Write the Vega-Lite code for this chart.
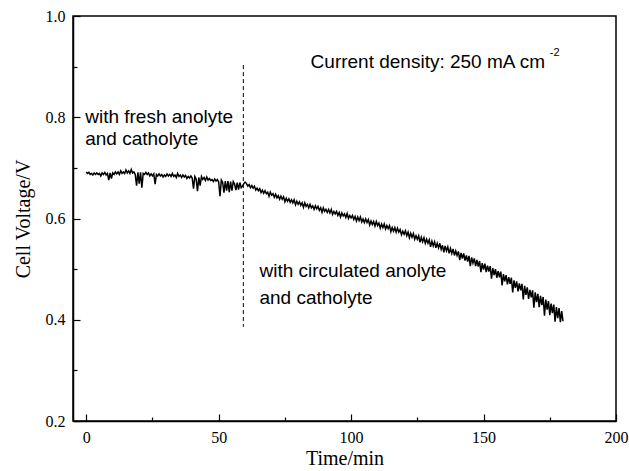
{
  "$schema": "https://vega.github.io/schema/vega-lite/v6.json",
  "autosize": "none",
  "padding": {"left": 73, "top": 16, "right": 13, "bottom": 50},
  "width": 543,
  "height": 405,
  "background": "white",
  "config": {
    "view": {"stroke": "black", "strokeWidth": 1.5},
    "axis": {
      "domainColor": "black", "domainWidth": 1.5,
      "tickColor": "black", "tickWidth": 1.2,
      "labelColor": "black", "titleColor": "black",
      "labelFont": "Liberation Serif", "labelFontSize": 16,
      "titleFont": "Liberation Serif", "titleFontSize": 20, "titleFontWeight": "normal",
      "grid": false
    }
  },
  "datasets": {
    "series": [
{"t":0,"v":0.692},{"t":0.5,"v":0.689},{"t":1,"v":0.691},{"t":1.5,"v":0.687},{"t":2,"v":0.689},{"t":2.5,"v":0.686},{"t":3,"v":0.690},{"t":3.5,"v":0.687},{"t":4,"v":0.690},{"t":4.5,"v":0.687},
{"t":5,"v":0.689},{"t":5.5,"v":0.684},{"t":6,"v":0.690},{"t":6.5,"v":0.687},{"t":7,"v":0.691},{"t":7.5,"v":0.686},{"t":8,"v":0.689},{"t":8.5,"v":0.676},{"t":9,"v":0.690},{"t":9.5,"v":0.679},
{"t":10,"v":0.690},{"t":10.5,"v":0.687},{"t":11,"v":0.692},{"t":11.5,"v":0.688},{"t":12,"v":0.692},{"t":12.5,"v":0.687},{"t":13,"v":0.694},{"t":13.5,"v":0.689},{"t":14,"v":0.692},{"t":14.5,"v":0.689},
{"t":15,"v":0.696},{"t":15.5,"v":0.690},{"t":16,"v":0.694},{"t":16.5,"v":0.689},{"t":17,"v":0.697},{"t":17.5,"v":0.690},{"t":18,"v":0.692},{"t":18.5,"v":0.687},{"t":19,"v":0.665},{"t":19.5,"v":0.691},
{"t":20,"v":0.669},{"t":20.5,"v":0.691},{"t":21,"v":0.661},{"t":21.5,"v":0.689},{"t":22,"v":0.687},{"t":22.5,"v":0.691},{"t":23,"v":0.687},{"t":23.5,"v":0.690},{"t":24,"v":0.684},{"t":24.5,"v":0.688},
{"t":25,"v":0.684},{"t":25.5,"v":0.688},{"t":26,"v":0.668},{"t":26.5,"v":0.687},{"t":27,"v":0.684},{"t":27.5,"v":0.688},{"t":28,"v":0.684},{"t":28.5,"v":0.687},{"t":29,"v":0.682},{"t":29.5,"v":0.686},
{"t":30,"v":0.683},{"t":30.5,"v":0.688},{"t":31,"v":0.684},{"t":31.5,"v":0.687},{"t":32,"v":0.683},{"t":32.5,"v":0.689},{"t":33,"v":0.683},{"t":33.5,"v":0.686},{"t":34,"v":0.681},{"t":34.5,"v":0.689},
{"t":35,"v":0.683},{"t":35.5,"v":0.686},{"t":36,"v":0.681},{"t":36.5,"v":0.686},{"t":37,"v":0.682},{"t":37.5,"v":0.685},{"t":38,"v":0.679},{"t":38.5,"v":0.683},{"t":39,"v":0.680},{"t":39.5,"v":0.684},
{"t":40,"v":0.680},{"t":40.5,"v":0.659},{"t":41,"v":0.683},{"t":41.5,"v":0.678},{"t":42,"v":0.654},{"t":42.5,"v":0.681},{"t":43,"v":0.665},{"t":43.5,"v":0.683},{"t":44,"v":0.677},{"t":44.5,"v":0.681},
{"t":45,"v":0.675},{"t":45.5,"v":0.682},{"t":46,"v":0.676},{"t":46.5,"v":0.679},{"t":47,"v":0.675},{"t":47.5,"v":0.677},{"t":48,"v":0.673},{"t":48.5,"v":0.678},{"t":49,"v":0.674},{"t":49.5,"v":0.677},
{"t":50,"v":0.672},{"t":50.5,"v":0.644},{"t":51,"v":0.676},{"t":51.5,"v":0.671},{"t":52,"v":0.651},{"t":52.5,"v":0.674},{"t":53,"v":0.655},{"t":53.5,"v":0.674},{"t":54,"v":0.652},{"t":54.5,"v":0.673},
{"t":55,"v":0.655},{"t":55.5,"v":0.673},{"t":56,"v":0.668},{"t":56.5,"v":0.656},{"t":57,"v":0.671},{"t":57.5,"v":0.657},{"t":58,"v":0.671},{"t":58.5,"v":0.661},{"t":59,"v":0.664},{"t":59.5,"v":0.669},
{"t":60,"v":0.672},{"t":60.5,"v":0.669},{"t":61,"v":0.664},{"t":61.5,"v":0.667},{"t":62,"v":0.661},{"t":62.5,"v":0.665},{"t":63,"v":0.660},{"t":63.5,"v":0.664},{"t":64,"v":0.656},{"t":64.5,"v":0.660},
{"t":65,"v":0.655},{"t":65.5,"v":0.659},{"t":66,"v":0.651},{"t":66.5,"v":0.656},{"t":67,"v":0.650},{"t":67.5,"v":0.655},{"t":68,"v":0.649},{"t":68.5,"v":0.652},{"t":69,"v":0.644},{"t":69.5,"v":0.652},
{"t":70,"v":0.646},{"t":70.5,"v":0.649},{"t":71,"v":0.642},{"t":71.5,"v":0.648},{"t":72,"v":0.641},{"t":72.5,"v":0.645},{"t":73,"v":0.638},{"t":73.5,"v":0.644},{"t":74,"v":0.638},{"t":74.5,"v":0.643},
{"t":75,"v":0.633},{"t":75.5,"v":0.640},{"t":76,"v":0.634},{"t":76.5,"v":0.639},{"t":77,"v":0.632},{"t":77.5,"v":0.637},{"t":78,"v":0.631},{"t":78.5,"v":0.637},{"t":79,"v":0.627},{"t":79.5,"v":0.634},
{"t":80,"v":0.628},{"t":80.5,"v":0.633},{"t":81,"v":0.626},{"t":81.5,"v":0.631},{"t":82,"v":0.622},{"t":82.5,"v":0.631},{"t":83,"v":0.624},{"t":83.5,"v":0.628},{"t":84,"v":0.621},{"t":84.5,"v":0.628},
{"t":85,"v":0.621},{"t":85.5,"v":0.625},{"t":86,"v":0.618},{"t":86.5,"v":0.625},{"t":87,"v":0.619},{"t":87.5,"v":0.624},{"t":88,"v":0.616},{"t":88.5,"v":0.621},{"t":89,"v":0.612},{"t":89.5,"v":0.621},
{"t":90,"v":0.614},{"t":90.5,"v":0.618},{"t":91,"v":0.612},{"t":91.5,"v":0.618},{"t":92,"v":0.611},{"t":92.5,"v":0.618},{"t":93,"v":0.608},{"t":93.5,"v":0.614},{"t":94,"v":0.609},{"t":94.5,"v":0.614},
{"t":95,"v":0.606},{"t":95.5,"v":0.612},{"t":96,"v":0.603},{"t":96.5,"v":0.611},{"t":97,"v":0.605},{"t":97.5,"v":0.609},{"t":98,"v":0.602},{"t":98.5,"v":0.610},{"t":99,"v":0.600},{"t":99.5,"v":0.606},
{"t":100,"v":0.601},{"t":100.5,"v":0.606},{"t":101,"v":0.598},{"t":101.5,"v":0.604},{"t":102,"v":0.595},{"t":102.5,"v":0.603},{"t":103,"v":0.596},{"t":103.5,"v":0.603},{"t":104,"v":0.593},{"t":104.5,"v":0.599},
{"t":105,"v":0.592},{"t":105.5,"v":0.599},{"t":106,"v":0.592},{"t":106.5,"v":0.598},{"t":107,"v":0.587},{"t":107.5,"v":0.595},{"t":108,"v":0.588},{"t":108.5,"v":0.594},{"t":109,"v":0.585},{"t":109.5,"v":0.594},
{"t":110,"v":0.586},{"t":110.5,"v":0.591},{"t":111,"v":0.581},{"t":111.5,"v":0.589},{"t":112,"v":0.582},{"t":112.5,"v":0.589},{"t":113,"v":0.579},{"t":113.5,"v":0.586},{"t":114,"v":0.580},{"t":114.5,"v":0.586},
{"t":115,"v":0.574},{"t":115.5,"v":0.582},{"t":116,"v":0.575},{"t":116.5,"v":0.582},{"t":117,"v":0.573},{"t":117.5,"v":0.581},{"t":118,"v":0.573},{"t":118.5,"v":0.578},{"t":119,"v":0.568},{"t":119.5,"v":0.575},
{"t":120,"v":0.569},{"t":120.5,"v":0.576},{"t":121,"v":0.566},{"t":121.5,"v":0.573},{"t":122,"v":0.562},{"t":122.5,"v":0.571},{"t":123,"v":0.563},{"t":123.5,"v":0.570},{"t":124,"v":0.559},{"t":124.5,"v":0.566},
{"t":125,"v":0.559},{"t":125.5,"v":0.566},{"t":126,"v":0.553},{"t":126.5,"v":0.563},{"t":127,"v":0.554},{"t":127.5,"v":0.562},{"t":128,"v":0.551},{"t":128.5,"v":0.559},{"t":129,"v":0.551},{"t":129.5,"v":0.558},
{"t":130,"v":0.544},{"t":130.5,"v":0.555},{"t":131,"v":0.546},{"t":131.5,"v":0.554},{"t":132,"v":0.542},{"t":132.5,"v":0.551},{"t":133,"v":0.542},{"t":133.5,"v":0.551},{"t":134,"v":0.539},{"t":134.5,"v":0.547},
{"t":135,"v":0.533},{"t":135.5,"v":0.546},{"t":136,"v":0.536},{"t":136.5,"v":0.544},{"t":137,"v":0.531},{"t":137.5,"v":0.541},{"t":138,"v":0.531},{"t":138.5,"v":0.540},{"t":139,"v":0.527},{"t":139.5,"v":0.536},
{"t":140,"v":0.527},{"t":140.5,"v":0.535},{"t":141,"v":0.518},{"t":141.5,"v":0.532},{"t":142,"v":0.521},{"t":142.5,"v":0.531},{"t":143,"v":0.517},{"t":143.5,"v":0.527},{"t":144,"v":0.515},{"t":144.5,"v":0.526},
{"t":145,"v":0.506},{"t":145.5,"v":0.523},{"t":146,"v":0.512},{"t":146.5,"v":0.521},{"t":147,"v":0.506},{"t":147.5,"v":0.518},{"t":148,"v":0.505},{"t":148.5,"v":0.516},{"t":149,"v":0.494},{"t":149.5,"v":0.512},
{"t":150,"v":0.499},{"t":150.5,"v":0.511},{"t":151,"v":0.494},{"t":151.5,"v":0.507},{"t":152,"v":0.495},{"t":152.5,"v":0.506},{"t":153,"v":0.481},{"t":153.5,"v":0.502},{"t":154,"v":0.488},{"t":154.5,"v":0.500},
{"t":155,"v":0.483},{"t":155.5,"v":0.496},{"t":156,"v":0.484},{"t":156.5,"v":0.495},{"t":157,"v":0.468},{"t":157.5,"v":0.490},{"t":158,"v":0.476},{"t":158.5,"v":0.488},{"t":159,"v":0.470},{"t":159.5,"v":0.484},
{"t":160,"v":0.471},{"t":160.5,"v":0.483},{"t":161,"v":0.454},{"t":161.5,"v":0.478},{"t":162,"v":0.463},{"t":162.5,"v":0.476},{"t":163,"v":0.456},{"t":163.5,"v":0.472},{"t":164,"v":0.458},{"t":164.5,"v":0.471},
{"t":165,"v":0.440},{"t":165.5,"v":0.467},{"t":166,"v":0.449},{"t":166.5,"v":0.464},{"t":167,"v":0.441},{"t":167.5,"v":0.459},{"t":168,"v":0.444},{"t":168.5,"v":0.458},{"t":169,"v":0.424},{"t":169.5,"v":0.454},
{"t":170,"v":0.435},{"t":170.5,"v":0.451},{"t":171,"v":0.425},{"t":171.5,"v":0.447},{"t":172,"v":0.429},{"t":172.5,"v":0.445},{"t":173,"v":0.408},{"t":173.5,"v":0.440},{"t":174,"v":0.420},{"t":174.5,"v":0.437},
{"t":175,"v":0.409},{"t":175.5,"v":0.432},{"t":176,"v":0.413},{"t":176.5,"v":0.430},{"t":177,"v":0.396},{"t":177.5,"v":0.425},{"t":178,"v":0.403},{"t":178.5,"v":0.423},{"t":179,"v":0.395},{"t":179.5,"v":0.417},
{"t":180,"v":0.397}
    ],
    "divider": [{"t": 59.3, "v": 0.903, "v2": 0.386}],
    "notes": [
      {"t": -0.4, "v": 0.800, "label": "with fresh anolyte"},
      {"t": -0.4, "v": 0.757, "label": "and catholyte"},
      {"t": 65.4, "v": 0.496, "label": "with circulated anolyte"},
      {"t": 65.4, "v": 0.443, "label": "and catholyte"},
      {"t": 84.7, "v": 0.909, "label": "Current density: 250 mA cm"}
    ],
    "sup": [{"t": 175.0, "v": 0.927, "label": "-2"}]
  },
  "encoding": {
    "x": {
      "field": "t", "type": "quantitative",
      "scale": {"domain": [-5, 200], "nice": false, "zero": false},
      "axis": {
        "title": "Time/min",
        "values": [0, 25, 50, 75, 100, 125, 150, 175, 200],
        "labelExpr": "datum.value % 50 == 0 ? datum.label : ''",
        "tickSize": {"condition": {"test": "datum.value % 50 == 0", "value": -7}, "value": -4},
        "labelPadding": 15,
        "titlePadding": 3,
        "labelFlush": false
      }
    },
    "y": {
      "field": "v", "type": "quantitative",
      "scale": {"domain": [0.2, 1.0], "nice": false, "zero": false},
      "axis": {
        "title": "Cell Voltage/V",
        "values": [0.2, 0.3, 0.4, 0.5, 0.6, 0.7, 0.8, 0.9, 1.0],
        "format": ".1f",
        "labelExpr": "round(datum.value * 10) % 2 == 0 ? datum.label : ''",
        "tickSize": {"condition": {"test": "round(datum.value * 10) % 2 == 0", "value": -7}, "value": -4},
        "labelPadding": 15,
        "titlePadding": 12,
        "labelFlush": false
      }
    }
  },
  "layer": [
    {
      "data": {"name": "series"},
      "mark": {"type": "line", "color": "black", "strokeWidth": 1.5, "interpolate": "linear"}
    },
    {
      "data": {"name": "divider"},
      "mark": {"type": "rule", "color": "black", "strokeWidth": 1, "strokeDash": [4, 3]},
      "encoding": {"y2": {"field": "v2"}}
    },
    {
      "data": {"name": "notes"},
      "mark": {"type": "text", "align": "left", "baseline": "middle", "font": "Liberation Sans", "fontSize": 19, "color": "black"},
      "encoding": {"text": {"field": "label"}}
    },
    {
      "data": {"name": "sup"},
      "mark": {"type": "text", "align": "left", "baseline": "middle", "font": "Liberation Sans", "fontSize": 11, "color": "black"},
      "encoding": {"text": {"field": "label"}}
    }
  ]
}
